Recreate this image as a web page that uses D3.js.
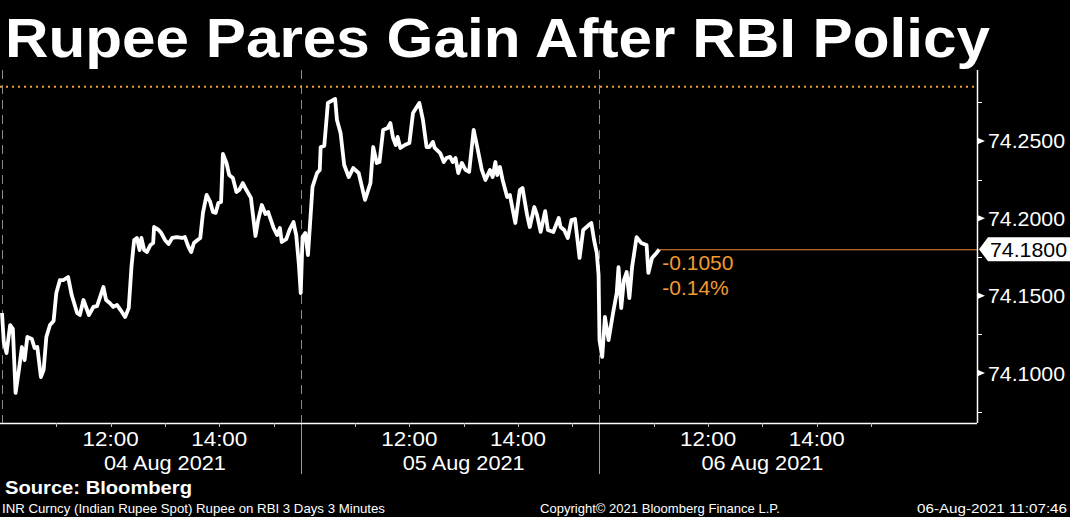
<!DOCTYPE html>
<html>
<head>
<meta charset="utf-8">
<script src="https://cdn.jsdelivr.net/npm/d3@7"></script>
<style>
  html, body { margin: 0; padding: 0; background: #000; }
  svg { display: block; }
</style>
</head>
<body>
<svg id="chart" width="1070" height="517"></svg>
<script>
// ---------- DATA ----------
const dayLabels = ["04 Aug 2021", "05 Aug 2021", "06 Aug 2021"];
const timeTickLabels = ["12:00", "14:00"];
const timeTickMinutes = [120, 240];          // minutes after 10:00 session open
const hourTickMinutes = [60, 120, 180, 240, 300];
const yTickValues = [74.10, 74.15, 74.20, 74.25];
const yMinorValues = [74.075, 74.125, 74.175, 74.225, 74.275];
const sessionMinutes = 330;                  // 10:00 - 15:30

// minutes after session open, and INR spot value, per day
const day04Minutes = [0,2,5,9,12,15,19,22,25,28,33,36,39,43,46,49,53,57,60,64,68,73,77,83,86,90,96,101,105,112,115,119,123,127,131,136,140,143,146,149,152,154,157,160,164,167,168,173,176,180,184,188,193,199,202,206,209,212,216,219,222,226,230,233,236,239,242,244,248,251,255,259,262,266,270,275,280,283,287,291,294,300,304,307,309,314,318,322,325,328];
const day04Values = [74.1388,74.1200,74.1129,74.1310,74.1285,74.0871,74.1032,74.1168,74.1084,74.1233,74.1220,74.1162,74.1168,74.0974,74.1020,74.1233,74.1310,74.1336,74.1517,74.1601,74.1601,74.1621,74.1504,74.1388,74.1375,74.1472,74.1375,74.1427,74.1433,74.1556,74.1472,74.1453,74.1427,74.1440,74.1407,74.1362,74.1420,74.1685,74.1860,74.1873,74.1795,74.1873,74.1795,74.1782,74.1828,74.1841,74.1944,74.1925,74.1905,74.1860,74.1834,74.1873,74.1879,74.1873,74.1879,74.1815,74.1782,74.1841,74.1860,74.1873,74.2035,74.2151,74.2106,74.2041,74.2035,74.2099,74.2106,74.2416,74.2358,74.2280,74.2261,74.2170,74.2183,74.2228,74.2183,74.2132,74.1886,74.1989,74.2086,74.2028,74.2041,74.1938,74.1892,74.1938,74.1847,74.1866,74.1931,74.1976,74.1892,74.1698];

const day05Minutes = [0,2,5,8,13,18,21,22,26,30,34,38,40,44,48,53,58,64,71,77,80,84,87,91,96,99,102,105,107,110,115,120,124,131,135,139,142,146,148,154,158,161,165,168,171,174,178,182,186,191,195,200,204,209,212,215,217,220,223,228,231,237,242,245,250,253,258,261,265,270,273,279,285,287,291,295,299,303,308,312,317,321,324,327,329];
const day05Values = [74.1517,74.1879,74.1905,74.1763,74.2203,74.2293,74.2313,74.2461,74.2468,74.2746,74.2759,74.2772,74.2636,74.2552,74.2345,74.2267,74.2325,74.2293,74.2119,74.2228,74.2461,74.2358,74.2364,74.2571,74.2584,74.2616,74.2519,74.2474,74.2526,74.2455,74.2474,74.2487,74.2681,74.2746,74.2636,74.2461,74.2461,74.2494,74.2455,74.2422,74.2364,74.2390,74.2397,74.2364,74.2390,74.2293,74.2358,74.2313,74.2300,74.2571,74.2461,74.2313,74.2248,74.2313,74.2267,74.2364,74.2280,74.2332,74.2248,74.2138,74.2151,74.1970,74.2183,74.2196,74.2022,74.1944,74.2073,74.2022,74.1912,74.2047,74.1925,74.1912,74.2002,74.1944,74.1925,74.1873,74.1989,74.1996,74.1744,74.1925,74.1950,74.1970,74.1860,74.1776,74.1634];

const day06Minutes = [0,3,6,10,15,19,21,24,27,30,33,36,41,46,52,54,58,63,66];
const day06Values = [74.1213,74.1104,74.1362,74.1213,74.1388,74.1517,74.1685,74.1420,74.1601,74.1653,74.1485,74.1685,74.1879,74.1841,74.1828,74.1647,74.1744,74.1776,74.1800];

const previousClose = 74.285;
const lastValue = 74.18;
const netChangeLabel = "-0.1050";
const pctChangeLabel = "-0.14%";

const titleText = "Rupee Pares Gain After RBI Policy";
const sourceText = "Source: Bloomberg";
const footLeft = "INR Curncy (Indian Rupee Spot) Rupee on RBI 3 Days 3 Minutes";
const footMid = "Copyright\u00A9 2021 Bloomberg Finance L.P.";
const footRight = "06-Aug-2021 11:07:46";

// ---------- BUILD ----------
const days = [
  [day04Minutes, day04Values],
  [day05Minutes, day05Values],
  [day06Minutes, day06Values]
];
const series = [];
days.forEach(([mins, vals], di) => {
  mins.forEach((m, i) => series.push({ t: di * sessionMinutes + m, v: vals[i] }));
});

const svg = d3.select("#chart");
const W = 1070, H = 517;
const plot = { left: 0, right: 977, top: 70, bottom: 423 };
const font = "'Liberation Sans', Arial, sans-serif";

svg.append("rect").attr("width", W).attr("height", H).attr("fill", "#000");

const x = d3.scaleLinear().domain([-2.2, 1077]).range([plot.left, plot.right]);
const y = d3.scaleLinear().domain([74.06768, 74.29590]).range([plot.bottom, plot.top]);

// title
svg.append("text")
  .attr("x", 5).attr("y", 57)
  .attr("fill", "#fff")
  .attr("font-family", font)
  .attr("font-weight", "bold")
  .attr("font-size", 56)
  .attr("textLength", 985)
  .attr("lengthAdjust", "spacingAndGlyphs")
  .text(titleText);

// day separators (dashed in plot, solid in axis band)
const sepG = svg.append("g");
[0, 1, 2].forEach(di => {
  const sx = Math.round(x(di * sessionMinutes)) + 0.5;
  sepG.append("line")
    .attr("x1", sx).attr("x2", sx)
    .attr("y1", plot.top).attr("y2", plot.bottom)
    .attr("stroke", "#8a8a8a").attr("stroke-width", 1)
    .attr("stroke-dasharray", "9,6");
  if (di > 0) {
    sepG.append("line")
      .attr("x1", sx).attr("x2", sx)
      .attr("y1", plot.bottom).attr("y2", 474)
      .attr("stroke", "#9a9a9a").attr("stroke-width", 1);
  }
});

// previous close dotted line
svg.append("line")
  .attr("x1", plot.left).attr("x2", plot.right)
  .attr("y1", y(previousClose)).attr("y2", y(previousClose))
  .attr("stroke", "#f0a030").attr("stroke-width", 2)
  .attr("stroke-dasharray", "2,4");

// price line
const line = d3.line().x(d => x(d.t)).y(d => y(d.v));
svg.append("path")
  .datum(series)
  .attr("d", line)
  .attr("fill", "none")
  .attr("stroke", "#fff")
  .attr("stroke-width", 3.8)
  .attr("stroke-linejoin", "round");

// last-value orange line
const last = series[series.length - 1];
svg.append("line")
  .attr("x1", x(last.t)).attr("x2", plot.right)
  .attr("y1", y(lastValue) + 0.5).attr("y2", y(lastValue) + 0.5)
  .attr("stroke", "#ee8a3c").attr("stroke-width", 1);

svg.append("text")
  .attr("x", x(last.t) + 3).attr("y", y(lastValue) + 21)
  .attr("fill", "#f29a30").attr("font-family", font).attr("font-size", 21)
  .text(netChangeLabel);
svg.append("text")
  .attr("x", x(last.t) + 3).attr("y", y(lastValue) + 46)
  .attr("fill", "#f29a30").attr("font-family", font).attr("font-size", 21)
  .text(pctChangeLabel);

// right axis
const ax = svg.append("g");
ax.append("line")
  .attr("x1", plot.right + 0.5).attr("x2", plot.right + 0.5)
  .attr("y1", plot.top).attr("y2", plot.bottom)
  .attr("stroke", "#fff").attr("stroke-width", 1.5);
yMinorValues.forEach(v => {
  ax.append("line")
    .attr("x1", plot.right).attr("x2", plot.right + 5)
    .attr("y1", Math.round(y(v)) + 0.5).attr("y2", Math.round(y(v)) + 0.5)
    .attr("stroke", "#fff").attr("stroke-width", 1);
});
yTickValues.forEach(v => {
  const ty = y(v);
  ax.append("path")
    .attr("d", `M${plot.right},${ty - 3.5}L${plot.right + 8},${ty}L${plot.right},${ty + 3.5}Z`)
    .attr("fill", "#fff");
  ax.append("text")
    .attr("x", 988).attr("y", ty + 7.5)
    .attr("fill", "#fff").attr("font-family", font).attr("font-size", 21)
    .attr("textLength", 77).attr("lengthAdjust", "spacingAndGlyphs")
    .text(d3.format(".4f")(v));
});

// last value tag
const ly = y(lastValue);
ax.append("path")
  .attr("d", `M979,${ly}L988,${ly - 12}L1070,${ly - 12}L1070,${ly + 12}L988,${ly + 12}Z`)
  .attr("fill", "#fff");
ax.append("text")
  .attr("x", 990).attr("y", ly + 7.5)
  .attr("fill", "#000").attr("font-family", font).attr("font-size", 21)
  .attr("textLength", 77).attr("lengthAdjust", "spacingAndGlyphs")
  .text(d3.format(".4f")(lastValue));

// bottom axis
const bx = svg.append("g");
bx.append("line")
  .attr("x1", plot.left).attr("x2", plot.right)
  .attr("y1", plot.bottom + 0.5).attr("y2", plot.bottom + 0.5)
  .attr("stroke", "#fff").attr("stroke-width", 1.5);
days.forEach((d, di) => {
  hourTickMinutes.forEach(m => {
    const tx = Math.round(x(di * sessionMinutes + m)) + 0.5;
    bx.append("line")
      .attr("x1", tx).attr("x2", tx)
      .attr("y1", plot.bottom).attr("y2", plot.bottom + 4)
      .attr("stroke", "#bbb").attr("stroke-width", 1);
  });
  timeTickMinutes.forEach((m, i) => {
    bx.append("text")
      .attr("x", x(di * sessionMinutes + m)).attr("y", 446)
      .attr("text-anchor", "middle")
      .attr("fill", "#fff").attr("font-family", font).attr("font-size", 21)
      .attr("textLength", 56).attr("lengthAdjust", "spacingAndGlyphs")
      .text(timeTickLabels[i]);
  });
  bx.append("text")
    .attr("x", x(di * sessionMinutes + 180)).attr("y", 470)
    .attr("text-anchor", "middle")
    .attr("fill", "#fff").attr("font-family", font).attr("font-size", 21)
    .attr("textLength", 122).attr("lengthAdjust", "spacingAndGlyphs")
    .text(dayLabels[di]);
});

// footer
svg.append("text")
  .attr("x", 5).attr("y", 494)
  .attr("fill", "#fff").attr("font-family", font).attr("font-weight", "bold").attr("font-size", 19)
  .attr("textLength", 187).attr("lengthAdjust", "spacingAndGlyphs")
  .text(sourceText);
svg.append("text")
  .attr("x", 2).attr("y", 513)
  .attr("fill", "#fff").attr("font-family", font).attr("font-size", 13.5)
  .attr("textLength", 383).attr("lengthAdjust", "spacingAndGlyphs")
  .text(footLeft);
svg.append("text")
  .attr("x", 540).attr("y", 513)
  .attr("fill", "#fff").attr("font-family", font).attr("font-size", 13.5)
  .attr("textLength", 240).attr("lengthAdjust", "spacingAndGlyphs")
  .text(footMid);
svg.append("text")
  .attr("x", 917).attr("y", 513)
  .attr("fill", "#fff").attr("font-family", font).attr("font-size", 13.5)
  .attr("textLength", 150).attr("lengthAdjust", "spacingAndGlyphs")
  .text(footRight);
</script>
</body>
</html>
